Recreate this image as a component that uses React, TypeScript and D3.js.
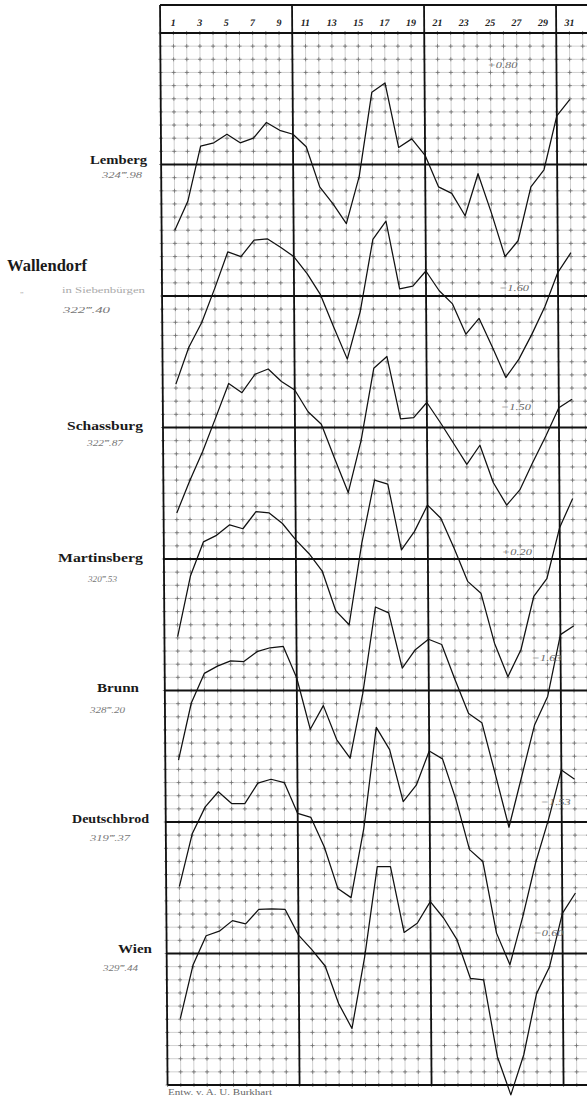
import React from 'react';
import * as d3 from 'd3';

// days of the month along the top
const days = d3.range(1, 32);
const headerDays = d3.range(1, 32, 2);

const stations = ['Lemberg', 'Wallendorf', 'Schassburg', 'Martinsberg', 'Brunn', 'Deutschbrod', 'Wien'];
const meanHeights = ['324‴.98', '322‴.40', '322‴.87', '320‴.53', '328‴.20', '319‴.37', '329‴.44'];
const corrections = ['+0.80', '−1.60', '−1.50', '+0.20', '−1.63', '−1.53', '−0.60'];

// deviation from each station's mean line, in grid squares (upwards positive)
const lemberg = [-5.0, -2.8, 1.4, 1.65, 2.3, 1.65, 2.0, 3.2, 2.6, 2.3, 1.35, -1.7, -3.0, -4.5, -0.9, 5.5, 6.2, 1.3, 1.95, 0.7, -1.7, -2.2, -3.9, -0.7, -3.7, -7.0, -5.8, -1.7, -0.4, 3.7, 4.95];
const wallendorf = [-6.7, -3.9, -2.0, 0.6, 3.35, 3.0, 4.25, 4.35, 3.7, 3.0, 1.7, 0.1, -2.4, -4.8, -1.2, 4.3, 5.7, 0.55, 0.75, 1.9, 0.4, -0.6, -2.9, -1.7, -3.9, -6.2, -4.8, -2.9, -0.8, 1.8, 3.3];
const schassburg = [-6.5, -4.05, -1.8, 0.75, 3.35, 2.65, 4.05, 4.45, 3.5, 2.85, 1.2, 0.25, -2.4, -4.95, -1.0, 4.5, 5.4, 0.65, 0.75, 1.9, 0.4, -1.2, -2.8, -1.35, -4.2, -5.9, -4.75, -2.65, -0.65, 1.5, 2.15];
const martinsberg = [-5.9, -1.3, 1.3, 1.8, 2.6, 2.3, 3.6, 3.5, 2.7, 1.45, 0.4, -0.95, -3.95, -5.0, 1.2, 6.0, 5.7, 0.7, 2.1, 4.1, 3.1, 0.8, -1.7, -2.6, -6.4, -8.95, -6.9, -2.85, -1.5, 2.4, 4.6];
const brunn = [-5.3, -0.95, 1.3, 1.85, 2.25, 2.2, 2.95, 3.25, 3.35, 0.95, -2.95, -1.15, -3.75, -5.15, -0.2, 6.35, 5.9, 1.7, 3.1, 3.9, 3.5, 0.8, -1.75, -2.45, -6.4, -10.4, -6.5, -2.6, -0.45, 4.25, 4.9];
const deutschbrod = [-4.9, -0.9, 1.15, 2.3, 1.4, 1.4, 2.95, 3.25, 3.0, 0.65, 0.35, -1.9, -5.05, -5.75, -0.5, 7.2, 5.5, 1.55, 2.8, 5.4, 4.8, 1.7, -2.1, -3.0, -8.45, -10.85, -7.2, -3.1, 0.2, 3.95, 3.25];
const wien = [-4.95, -0.85, 1.35, 1.7, 2.5, 2.25, 3.35, 3.4, 3.35, 1.4, 0.3, -0.95, -3.8, -5.7, -0.25, 6.6, 6.6, 1.6, 2.3, 3.95, 2.7, 1.05, -1.9, -2.0, -7.85, -10.75, -7.7, -3.05, -1.0, 3.05, 4.6];

const series = [lemberg, wallendorf, schassburg, martinsberg, brunn, deutschbrod, wien];

const W = 587;
const H = 1097;
const serif = "'Liberation Serif', 'DejaVu Serif', serif";

// [name right x, name width, name baseline, sub x, sub width, sub baseline, name size]
const labelPos = [
  [147, 57, 164, 102, 40, 178, 13],
  [87, 80, 271, 63, 47, 313, 17],
  [143, 76, 430, 87, 36, 446, 13],
  [143, 85, 562, 88, 29, 582, 13],
  [139, 42, 692, 90, 35, 713, 13],
  [149, 77, 823, 90, 40, 841, 13],
  [152, 34, 953, 103, 35, 971, 13],
];
// [x, baseline] of the correction notes
const notePos = [[487, 68], [497, 291], [498, 410], [498, 555], [527, 661], [535, 805], [527, 936]];

export default function App() {
  const x = d3.scaleLinear().domain([0, 30]).range([160, 556]);
  const row = d3.scaleLinear().domain([0, 80]).range([33, 1085]);
  const gridCols = d3.range(0, 34);
  const gridRows = d3.range(0, 81);
  const top = 5;

  const lineFor = (i: number) =>
    d3.line<number>()
      .x((_, j) => x(days[j]))
      .y(v => row(10 * (i + 1) - v));

  // little crosses where the grid lines meet, like the engraved paper
  const crosses = d3.cross(gridCols, gridRows)
    .map(([c, r]) => `M${x(c) - 2},${row(r)}h4M${x(c)},${row(r) - 2}v4`)
    .join('');

  return (
    <svg width={W} height={H} style={{ position: 'absolute', left: 0, top: 0, background: '#fff' }}>
      <g transform="skewX(0.4)">
        {/* thin grid */}
        <g stroke="#b0b0b0" strokeWidth={0.6}>
          {gridCols.map(c => (
            <line key={'c' + c} x1={x(c)} x2={x(c)} y1={row(0)} y2={row(80)} />
          ))}
          {gridRows.map(r => (
            <line key={'r' + r} x1={x(0)} x2={W + 10} y1={row(r)} y2={row(r)} />
          ))}
        </g>
        <path d={crosses} stroke="#707070" strokeWidth={0.8} fill="none" />
        {/* heavy lines: frame, decades, station means */}
        <g stroke="#111" strokeWidth={1.8}>
          <line x1={x(0)} x2={W + 10} y1={top} y2={top} />
          <line x1={x(0)} x2={W + 10} y1={row(0)} y2={row(0)} />
          <line x1={x(0)} x2={W + 10} y1={row(80)} y2={row(80)} />
          {[0, 10, 20, 30].map(d => (
            <line key={'v' + d} x1={x(d)} x2={x(d)} y1={top} y2={row(80)} />
          ))}
          {stations.map((s, i) => (
            <line key={'b' + s} x1={x(0)} x2={W + 10} y1={row(10 * (i + 1))} y2={row(10 * (i + 1))} />
          ))}
        </g>
        {/* day numbers */}
        <g fontFamily={serif} fontStyle="italic" fontWeight="bold" fontSize={10} fill="#222" textAnchor="middle">
          {headerDays.map(d => (
            <text key={'h' + d} x={x(d)} y={26}>{d}</text>
          ))}
        </g>
        {/* barometer curves */}
        <g fill="none" stroke="#111" strokeWidth={1.25} strokeLinejoin="round">
          {series.map((s, i) => (
            <path key={'p' + i} d={lineFor(i)(s) ?? ''} />
          ))}
        </g>
        {/* corrections */}
        <g fontFamily={serif} fontStyle="italic" fontSize={9} fill="#666">
          {corrections.map((c, i) => (
            <text key={'n' + i} x={notePos[i][0]} y={notePos[i][1]} textLength={30} lengthAdjust="spacingAndGlyphs">{c}</text>
          ))}
        </g>
      </g>

      {/* station names */}
      {stations.map((s, i) => {
        const p = labelPos[i];
        return (
          <g key={'l' + s} fontFamily={serif}>
            <text x={p[0] - p[1]} y={p[2]} fontSize={p[6]} fontWeight="bold" fill="#1a1a1a"
              textLength={p[1]} lengthAdjust="spacingAndGlyphs">{s}</text>
            <text x={p[3]} y={p[5]} fontSize={8} fontStyle="italic" fill="#777"
              textLength={p[4]} lengthAdjust="spacingAndGlyphs">{meanHeights[i]}</text>
          </g>
        );
      })}
      <text x={20} y={293} fontFamily={serif} fontSize={8} fill="#aaa">„</text>
      <text x={62} y={293} fontFamily={serif} fontSize={8} fill="#aaa" textLength={83} lengthAdjust="spacingAndGlyphs">in Siebenbürgen</text>

      <text x={168} y={1095} fontFamily={serif} fontSize={8} fill="#666" textLength={104} lengthAdjust="spacingAndGlyphs">Entw. v. A. U. Burkhart</text>
    </svg>
  );
}
